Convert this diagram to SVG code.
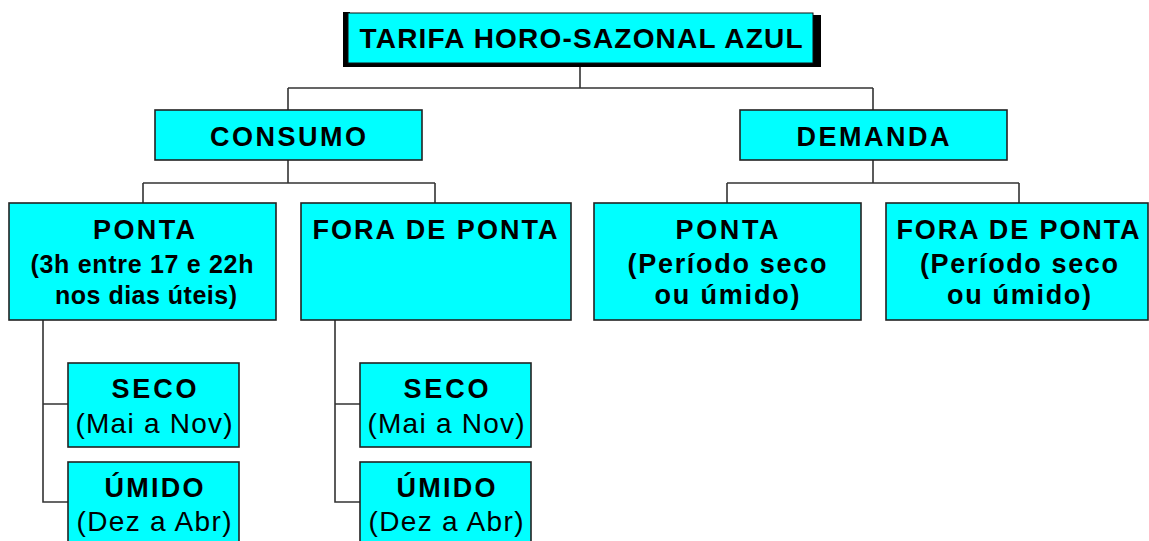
<svg xmlns="http://www.w3.org/2000/svg" width="1149" height="541" viewBox="0 0 1149 541">
<style>
.box{fill:#00FFFF;stroke:#222;stroke-width:1.6}
.conn{fill:none;stroke:#333;stroke-width:1.6}
text{font-family:"Liberation Sans",Arial,sans-serif;font-size:27px;fill:#000;text-anchor:middle}
.b{font-weight:bold}
.t{font-size:28px}
.n{font-size:25px}
.r{font-size:28px}
</style>
<rect width="1149" height="541" fill="#fff"/>
<g id="connectors">
<path class="conn" d="M580,67 V88 M288,88 H873 M288,88 V110 M873,88 V110"/>
<path class="conn" d="M288,160 V183 M143,183 H435 M143,183 V203 M435,183 V203"/>
<path class="conn" d="M873,160 V183 M727,183 H1019 M727,183 V203 M1019,183 V203"/>
<path class="conn" d="M43,320 V502 H68 M43,404 H68"/>
<path class="conn" d="M335,320 V502 H360 M335,404 H360"/>
</g>
<g id="title">
<path d="M343,12 H350 V15 H821 V67 H343 Z" fill="#000"/>
<rect x="348" y="13" width="465" height="50" fill="#00FFFF" stroke="#111" stroke-width="1"/>
<text class="b t" x="581" y="48" textLength="443" lengthAdjust="spacing">TARIFA HORO-SAZONAL AZUL</text>
</g>
<g id="consumo">
<rect class="box" x="155" y="110" width="267" height="50"/>
<text class="b" x="288" y="146" textLength="156" lengthAdjust="spacing">CONSUMO</text>
</g>
<g id="demanda">
<rect class="box" x="740" y="110" width="267" height="50"/>
<text class="b" x="873" y="146" textLength="153" lengthAdjust="spacing">DEMANDA</text>
</g>
<g id="consumo-ponta">
<rect class="box" x="9" y="203" width="267" height="117"/>
<text class="b" x="144" y="239" textLength="102" lengthAdjust="spacing">PONTA</text>
<text class="b n" x="142" y="273" textLength="223" lengthAdjust="spacing">(3h entre 17 e 22h</text>
<text class="b n" x="146" y="304" textLength="182" lengthAdjust="spacing">nos dias úteis)</text>
</g>
<g id="consumo-fora">
<rect class="box" x="301" y="203" width="270" height="117"/>
<text class="b" x="435" y="239" textLength="245" lengthAdjust="spacing">FORA DE PONTA</text>
</g>
<g id="demanda-ponta">
<rect class="box" x="594" y="203" width="267" height="117"/>
<text class="b" x="727" y="239" textLength="103" lengthAdjust="spacing">PONTA</text>
<text class="b" x="727" y="273" textLength="199" lengthAdjust="spacing">(Período seco</text>
<text class="b" x="727" y="304" textLength="145" lengthAdjust="spacing">ou úmido)</text>
</g>
<g id="demanda-fora">
<rect class="box" x="886" y="203" width="262" height="117"/>
<text class="b" x="1018" y="239" textLength="243" lengthAdjust="spacing">FORA DE PONTA</text>
<text class="b" x="1019" y="273" textLength="198" lengthAdjust="spacing">(Período seco</text>
<text class="b" x="1019" y="304" textLength="144" lengthAdjust="spacing">ou úmido)</text>
</g>
<g id="ponta-seco">
<rect class="box" x="68" y="363" width="171" height="84"/>
<text class="b" x="154" y="398" textLength="85" lengthAdjust="spacing">SECO</text>
<text class="r" x="154" y="433" textLength="157" lengthAdjust="spacing">(Mai a Nov)</text>
</g>
<g id="ponta-umido">
<rect class="box" x="68" y="462" width="171" height="84"/>
<text class="b" x="154" y="497" textLength="99" lengthAdjust="spacing">ÚMIDO</text>
<text class="r" x="154" y="531" textLength="155" lengthAdjust="spacing">(Dez a Abr)</text>
</g>
<g id="fora-seco">
<rect class="box" x="360" y="363" width="171" height="84"/>
<text class="b" x="446" y="398" textLength="85" lengthAdjust="spacing">SECO</text>
<text class="r" x="446" y="433" textLength="157" lengthAdjust="spacing">(Mai a Nov)</text>
</g>
<g id="fora-umido">
<rect class="box" x="360" y="462" width="171" height="84"/>
<text class="b" x="446" y="497" textLength="99" lengthAdjust="spacing">ÚMIDO</text>
<text class="r" x="446" y="531" textLength="155" lengthAdjust="spacing">(Dez a Abr)</text>
</g>
</svg>
